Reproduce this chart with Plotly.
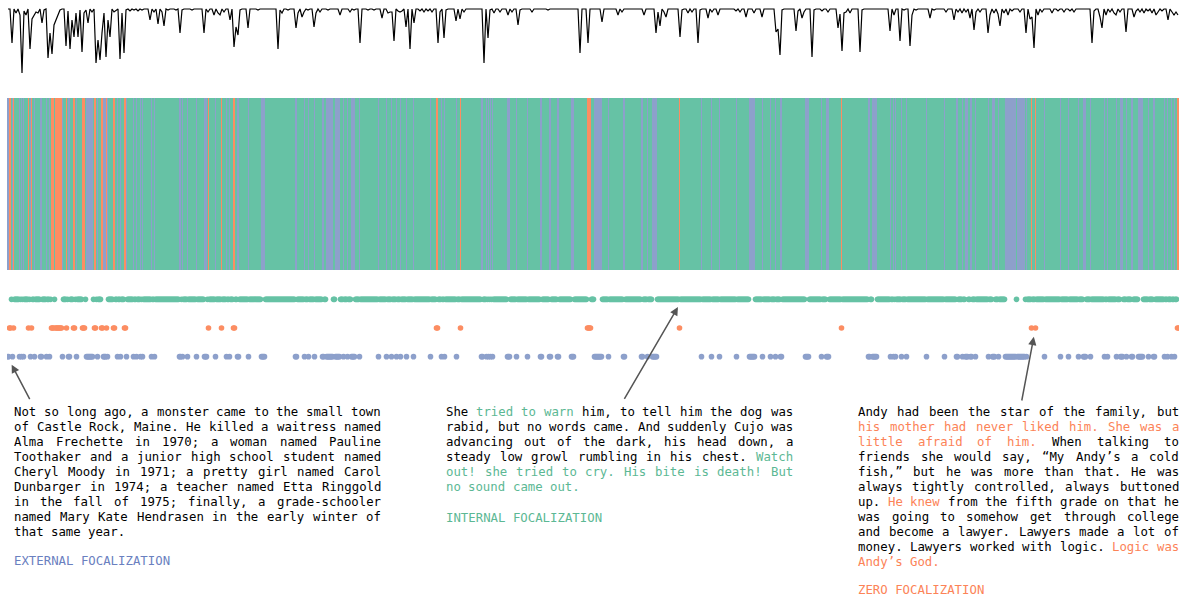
import plotly.graph_objects as go

W, H = 1190, 602

# ---------------- data ----------------
# smoothed signal (top line), one sample per two sentences
SIGNAL = [
    0, 0, 34, 0, 4, 0, 6, 64, 2, 6, 0, 40, 10, 6, 3, 4, 0, 14, 1, 0,
    49, 24, 45, 16, 11, 4, 1, 0, 0, 37, 2, 40, 11, 28, 4, 28, 1, 43, 4, 1,
    14, 0, 3, 0, 54, 31, 51, 24, 4, 48, 11, 28, 0, 3, 1, 0, 50, 4, 44, 1,
    0, 2, 0, 1, 0, 2, 0, 1, 0, 0, 0, 11, 0, 3, 0, 15, 0, 3, 17, 0,
    1, 0, 0, 0, 1, 0, 24, 1, 0, 0, 0, 0, 1, 0, 0, 0, 0, 0, 24, 0,
    3, 0, 0, 6, 0, 4, 6, 0, 3, 0, 0, 11, 0, 38, 18, 26, 1, 0, 0, 0,
    19, 0, 0, 0, 0, 1, 0, 0, 0, 0, 0, 0, 0, 0, 0, 40, 1, 4, 0, 0,
    1, 0, 0, 0, 19, 4, 0, 8, 3, 0, 1, 0, 0, 18, 4, 0, 3, 0, 0, 0,
    1, 0, 0, 0, 0, 0, 6, 0, 0, 0, 0, 3, 0, 1, 0, 0, 34, 0, 0, 0,
    1, 0, 0, 1, 0, 0, 0, 9, 0, 0, 4, 3, 3, 32, 0, 2, 3, 2, 0, 18,
    0, 40, 0, 14, 0, 0, 2, 0, 3, 0, 2, 0, 3, 0, 0, 34, 3, 0, 29, 1,
    0, 0, 0, 0, 12, 0, 10, 0, 3, 0, 0, 0, 0, 0, 0, 0, 0, 0, 54, 0,
    29, 1, 0, 4, 0, 0, 3, 0, 0, 0, 6, 0, 3, 0, 0, 16, 1, 0, 0, 0,
    0, 0, 3, 0, 0, 0, 0, 0, 0, 0, 1, 0, 0, 0, 0, 0, 0, 0, 0, 0,
    0, 0, 0, 0, 0, 0, 44, 0, 0, 0, 34, 0, 0, 0, 0, 0, 0, 13, 0, 0,
    0, 0, 0, 0, 0, 6, 0, 3, 0, 0, 0, 0, 0, 0, 0, 0, 0, 0, 6, 0,
    0, 0, 0, 0, 24, 3, 17, 0, 3, 8, 0, 0, 0, 0, 0, 0, 28, 1, 0, 0,
    4, 0, 3, 0, 0, 34, 1, 0, 0, 0, 9, 0, 3, 0, 0, 6, 0, 0, 0, 0,
    0, 0, 0, 0, 2, 0, 3, 0, 0, 8, 0, 0, 0, 4, 0, 0, 0, 8, 0, 0,
    0, 0, 0, 0, 23, 20, 46, 1, 0, 0, 0, 0, 0, 0, 22, 2, 0, 9, 3, 0,
    0, 0, 48, 1, 0, 0, 0, 2, 0, 0, 3, 0, 0, 0, 0, 19, 5, 42, 4, 3,
    0, 4, 0, 0, 0, 0, 43, 1, 0, 0, 0, 0, 0, 0, 0, 0, 0, 0, 0, 0,
    0, 22, 0, 6, 0, 0, 32, 0, 1, 0, 0, 37, 6, 0, 1, 0, 0, 0, 0, 0,
    0, 9, 0, 1, 0, 0, 0, 0, 0, 3, 0, 0, 0, 11, 0, 3, 0, 4, 0, 3,
    0, 9, 0, 21, 3, 0, 3, 0, 0, 0, 24, 6, 0, 4, 0, 5, 17, 0, 4, 0,
    6, 0, 2, 0, 0, 0, 3, 0, 0, 24, 0, 10, 8, 39, 0, 6, 0, 3, 0, 0,
    0, 0, 4, 0, 0, 2, 0, 0, 3, 0, 0, 2, 0, 3, 0, 0, 0, 0, 0, 0,
    0, 0, 34, 2, 0, 0, 8, 19, 0, 6, 0, 3, 0, 4, 6, 0, 3, 0, 0, 23,
    0, 0, 0, 8, 2, 0, 3, 0, 4, 0, 2, 0, 4, 0, 6, 3, 0, 2, 0, 0,
    11, 0, 3, 6, 3, 6,
]

N_SENT = 1172  # number of sentences in the book

# sentences with external focalization (blue)
EXTERNAL_IDX = [
    0, 1, 5, 12, 14, 16, 23, 27, 33, 34, 39, 42, 55, 61, 62, 69, 79, 80, 81,
    82, 83, 84, 85, 90, 96, 97, 98, 100, 110, 113, 119, 126, 129, 133, 135,
    144, 147, 172, 173, 175, 180, 189, 197, 198, 199, 208, 219, 222, 230, 231,
    241, 254, 255, 256, 257, 288, 289, 297, 301, 307, 315, 316, 319, 320, 321,
    322, 323, 324, 325, 328, 329, 330, 331, 332, 336, 340, 344, 345, 346, 347,
    352, 371, 379, 384, 389, 393, 399,
    406, 423, 434, 437, 449, 474, 475, 479, 481, 483, 485, 500, 501, 502, 509,
    520, 533, 534, 542, 543, 550, 551, 564, 565, 566, 587, 588, 589, 590, 591,
    592, 593, 594, 601, 616, 617, 634, 635, 640, 645, 646, 647, 648, 649, 694,
    704, 712, 729, 742, 743, 744, 745, 746, 747, 755, 763, 768, 773, 774,
    798, 799, 800, 801, 814, 819, 820, 821, 861, 862, 865, 866, 867, 868, 869,
    883, 886, 888, 894, 899, 919, 937, 949, 950, 955, 958, 959, 960, 963, 964,
    968, 981, 985, 986, 987, 991, 998, 999, 1000, 1001, 1002, 1003, 1004, 1005,
    1006, 1007, 1008, 1010, 1011, 1012, 1013, 1014, 1015, 1016, 1017, 1019,
    1037, 1053, 1061, 1071, 1076, 1077, 1078, 1083, 1097, 1100, 1109, 1113,
    1114, 1115, 1119, 1124, 1125, 1131, 1132, 1133, 1134, 1135, 1141, 1146,
    1147, 1157, 1160, 1164, 1167,
]
# sentences with zero focalization (orange)
ZERO_IDX = [
    2, 3, 6, 21, 24, 44, 45, 46, 48, 49, 50, 51, 52, 53, 54, 59, 66, 67, 75,
    76, 77, 87, 88, 94, 95, 99, 106, 107, 117, 118, 201, 214, 226, 227, 429,
    430, 453, 580, 581, 582, 583, 672, 834, 1024, 1028, 1170, 1171,
]
# all remaining sentences: internal focalization (green)

CLASS_NAMES = ["Internal focalization", "Zero focalization", "External focalization"]
CLASS_COLORS = ["#66c2a5", "#fc8d62", "#8da0cb"]
TEXT_COLORS = ["#5cb894", "#fc8357", "#6a80c0"]

# example passages ([...] = highlighted words)
P_EXTERNAL = [
    "Not so long ago, a monster came to the small town",
    "of Castle Rock, Maine. He killed a waitress named",
    "Alma Frechette in 1970; a woman named Pauline",
    "Toothaker and a junior high school student named",
    "Cheryl Moody in 1971; a pretty girl named Carol",
    "Dunbarger in 1974; a teacher named Etta Ringgold",
    "in the fall of 1975; finally, a grade-schooler",
    "named Mary Kate Hendrasen in the early winter of",
    "that same year.",
]
P_INTERNAL = [
    "She [tried to warn] him, to tell him the dog was",
    "rabid, but no words came. And suddenly Cujo was",
    "advancing out of the dark, his head down, a",
    "steady low growl rumbling in his chest. [Watch",
    "out! she tried to cry. His bite is death! But",
    "no sound came out.]",
]
P_ZERO = [
    "Andy had been the star of the family, but",
    "[his mother had never liked him. She was a",
    "little afraid of him.] When talking to",
    "friends she would say, \u201cMy Andy\u2019s a cold",
    "fish,\u201d but he was more than that. He was",
    "always tightly controlled, always buttoned",
    "up. [He knew] from the fifth grade on that he",
    "was going to somehow get through college",
    "and become a lawyer. Lawyers made a lot of",
    "money. Lawyers worked with logic. [Logic was",
    "Andy\u2019s God.]",
]
LABELS = ["EXTERNAL FOCALIZATION", "INTERNAL FOCALIZATION", "ZERO FOCALIZATION"]

# ---------------- derived ----------------
codes = [0] * N_SENT
for i in ZERO_IDX:
    codes[i] = 1
for i in EXTERNAL_IDX:
    codes[i] = 2
idx = list(range(N_SENT))
NS = len(SIGNAL)

X0, X1 = 7, 1179  # plot area in px


def py(px):
    return 1 - px / H


def pxx(px):
    return px / W


fig = go.Figure()

# top line
fig.add_trace(go.Scatter(x=list(range(NS)), y=SIGNAL, mode="lines",
                         line=dict(color="black", width=1.2),
                         xaxis="x2", yaxis="y", hoverinfo="skip"))

# barcode
cs = [[0, CLASS_COLORS[0]], [1 / 3, CLASS_COLORS[0]],
      [1 / 3, CLASS_COLORS[1]], [2 / 3, CLASS_COLORS[1]],
      [2 / 3, CLASS_COLORS[2]], [1, CLASS_COLORS[2]]]
fig.add_trace(go.Heatmap(x=idx, y=[0], z=[codes], zmin=-0.5, zmax=2.5,
                         colorscale=cs, showscale=False,
                         xaxis="x", yaxis="y2", hoverinfo="skip"))

# dot rows
for c in range(3):
    xs = [i for i in idx if codes[i] == c]
    fig.add_trace(go.Scatter(x=xs, y=[c] * len(xs), mode="markers",
                             marker=dict(color=CLASS_COLORS[c], size=5.6,
                                         line=dict(width=0)),
                             name=CLASS_NAMES[c],
                             xaxis="x", yaxis="y3", hoverinfo="skip"))

# ---------------- text ----------------
FONT = "DejaVu Sans Mono"
FS = 12.35
CW = FS * 0.60205
annotations = []


def add_paragraph(lines, x0, x1, y0, dy, hi_color):
    state = False
    for li, line in enumerate(lines):
        toks = []
        for w in line.split(" "):
            if w.startswith("["):
                w = w[1:]
                state = True
            hi = state
            if w.endswith("]"):
                w = w[:-1]
                state = False
            toks.append((w, hi))
        nchar = sum(len(w) for w, _ in toks)
        last = li == len(lines) - 1
        if last or len(toks) == 1:
            gap = CW
        else:
            gap = ((x1 - x0) - nchar * CW) / (len(toks) - 1)
        x = x0
        y = y0 + li * dy
        for w, hi in toks:
            annotations.append(dict(
                x=pxx(x), y=py(y), xref="paper", yref="paper",
                xanchor="left", yanchor="middle", showarrow=False,
                text=w, borderpad=0, borderwidth=0,
                font=dict(family=FONT, size=FS,
                          color=hi_color if hi else "#000000")))
            x += len(w) * CW + gap


def add_label(text, x0, y, color):
    annotations.append(dict(
        x=pxx(x0), y=py(y), xref="paper", yref="paper",
        xanchor="left", yanchor="middle", showarrow=False, text=text,
        borderpad=0, borderwidth=0,
        font=dict(family=FONT, size=FS, color=color)))


DY = 14.93
add_paragraph(P_EXTERNAL, 14, 381, 412.3, DY, TEXT_COLORS[2])
add_paragraph(P_INTERNAL, 446, 793, 412.3, DY, TEXT_COLORS[0])
add_paragraph(P_ZERO, 858, 1179, 412.3, DY, TEXT_COLORS[1])
add_label(LABELS[0], 14, 560.7, TEXT_COLORS[2])
add_label(LABELS[1], 446, 517.7, TEXT_COLORS[0])
add_label(LABELS[2], 858, 590.3, TEXT_COLORS[1])

# arrows from the passages to their sentences (sentence, row, tail offset px)
ARROWS = [(0, 2, 23, 44), (675, 0, -59, 101), (1028, 1, -14, 74)]
for xi, row, ax, ay in ARROWS:
    annotations.append(dict(
        x=xi, y=row, xref="x", yref="y3", showarrow=True, text="",
        ax=ax, ay=ay, arrowhead=2, arrowsize=1.1, arrowwidth=1.5,
        arrowcolor="#555555", standoff=9))

ax_common = dict(visible=False, showgrid=False, zeroline=False,
                 showticklabels=False, fixedrange=True)
fig.update_layout(
    width=W, height=H,
    margin=dict(l=0, r=0, t=0, b=0, pad=0),
    paper_bgcolor="white", plot_bgcolor="white",
    showlegend=False, hovermode=False,
    xaxis=dict(domain=[X0 / W, X1 / W], range=[-0.5, N_SENT - 0.5], **ax_common),
    xaxis2=dict(domain=[X0 / W, X1 / W], range=[-0.5, NS - 0.5], **ax_common),
    yaxis=dict(domain=[py(77), py(5)], range=[68, -4], **ax_common),
    yaxis2=dict(domain=[py(270), py(98)], range=[-0.5, 0.5], **ax_common),
    yaxis3=dict(domain=[py(371), py(285)], range=[2.5, -0.5], **ax_common),
    annotations=annotations,
)

fig.write_html("out.html", config={"displayModeBar": False},
               post_script="document.body.style.margin='0';"
                           "document.body.style.overflow='hidden';")
